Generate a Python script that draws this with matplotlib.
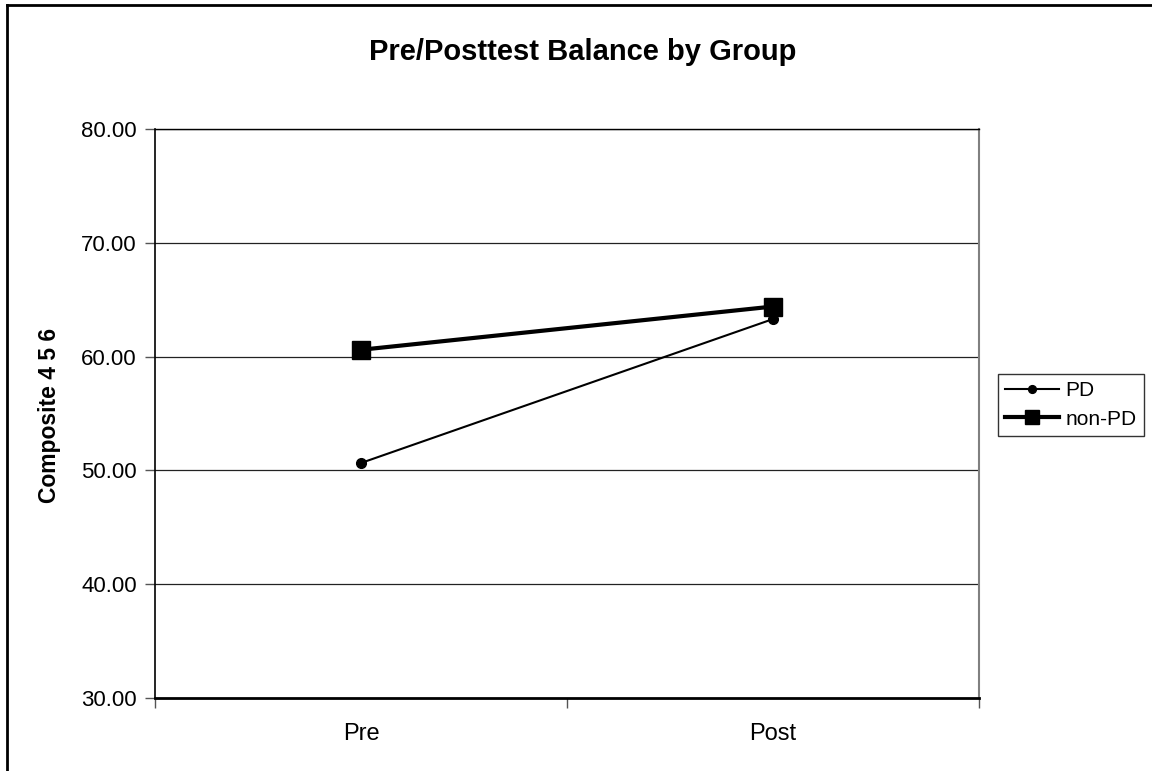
import matplotlib
matplotlib.use("Agg")
import matplotlib.pyplot as plt
from matplotlib.lines import Line2D

plt.rcParams['font.family'] = ['Liberation Sans', 'DejaVu Sans']

categories = ["Pre", "Post"]
pd_values = [50.65, 63.3]
nonpd_values = [60.6, 64.4]
yticks = [30, 40, 50, 60, 70, 80]

W, H = 1152, 771
fig = plt.figure(figsize=(W / 100, H / 100), dpi=100)
ax = fig.add_axes([155 / W, 1 - 698 / H, (979 - 155) / W, (698 - 129) / H])

x = list(range(len(categories)))
ax.plot(x, pd_values, color='black', lw=1.5, marker='o', ms=7, label='PD', zorder=3)
ax.plot(x, nonpd_values, color='black', lw=3, marker='s', ms=13, label='non-PD', zorder=3)

ax.set_xlim(-0.5, len(categories) - 0.5)
ax.set_ylim(30, 80)
ax.set_yticks(yticks)
ax.set_yticklabels([f"{v:.2f}" for v in yticks], fontsize=16)
for v in yticks[1:]:
    ax.axhline(v, color='#222222', lw=0.9, zorder=1)

ax.set_xticks([-0.5, 0.5, 1.5])
ax.set_xticklabels([])
ax.set_xticks(x, minor=True)
ax.set_xticklabels(categories, minor=True, fontsize=17)
ax.tick_params(axis='x', which='minor', length=0, pad=18)
ax.tick_params(axis='x', which='major', direction='out', length=7, width=1, color='#555555')
ax.tick_params(axis='y', direction='out', length=7, width=1, color='#555555', pad=6)

ax.spines['left'].set_color('black')
ax.spines['left'].set_linewidth(1.2)
ax.spines['bottom'].set_color('black')
ax.spines['bottom'].set_linewidth(2)
ax.spines['right'].set_color('#808080')
ax.spines['right'].set_linewidth(1.5)
ax.spines['top'].set_color('black')
ax.spines['top'].set_linewidth(1)

ax.set_ylabel("Composite 4 5 6", fontsize=16.5, fontweight='bold')
ax.yaxis.set_label_coords((61 - 155) / (979 - 155), (698 - 415) / (698 - 129))

fig.text(583 / W, 1 - 52 / H, "Pre/Posttest Balance by Group", ha='center', va='center',
         fontsize=21, fontweight='bold')

leg = fig.legend(loc='upper left', bbox_to_anchor=(998 / W, 1 - 374 / H),
                 frameon=True, fancybox=False, edgecolor='black', fontsize=15,
                 handlelength=2.6, handletextpad=0.3, borderpad=0.35, labelspacing=0.45,
                 borderaxespad=0, markerscale=0.8)
leg.get_frame().set_linewidth(1)

# figure border (top and left visible)
fig.add_artist(Line2D([7 / W, 7 / W], [0, 1 - 5 / H], color='black', lw=2, transform=fig.transFigure))
fig.add_artist(Line2D([7 / W, 1], [1 - 5 / H, 1 - 5 / H], color='black', lw=2, transform=fig.transFigure))

fig.savefig("out.png", dpi=100)
